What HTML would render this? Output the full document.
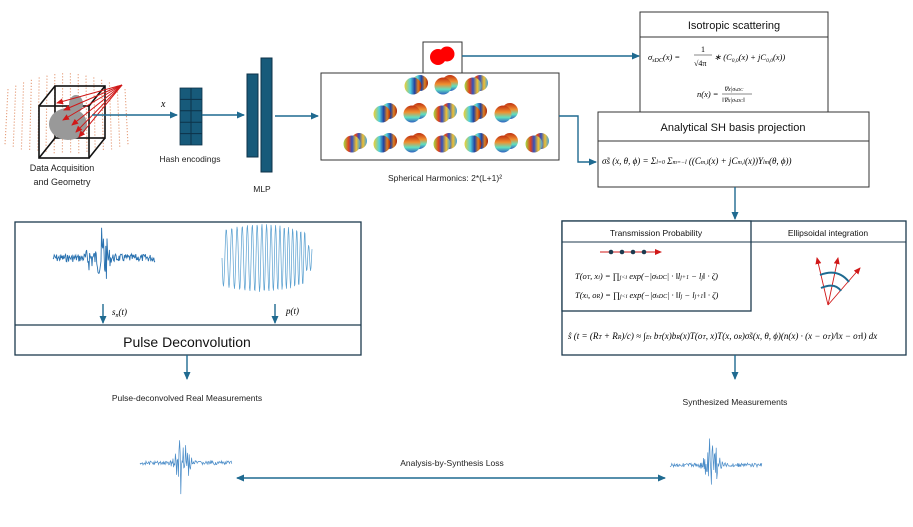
<!DOCTYPE html>
<html><head><meta charset="utf-8"><style>
body{margin:0;background:#fff}
svg{display:block;font-family:"Liberation Sans",sans-serif}
.m{font-family:"Liberation Serif",serif;font-style:italic}
</style></head><body>
<svg id="s" width="913" height="527" viewBox="0 0 913 527" xmlns="http://www.w3.org/2000/svg">
<defs>
<marker id="a" markerWidth="8" markerHeight="8" refX="7" refY="4" orient="auto" markerUnits="userSpaceOnUse"><path d="M0,0.5 L8,4 L0,7.5z" fill="#1f6a90"/></marker>
<marker id="ab" markerWidth="8" markerHeight="8" refX="1" refY="4" orient="auto" markerUnits="userSpaceOnUse"><path d="M8,0.5 L0,4 L8,7.5z" fill="#1f6a90"/></marker>
<marker id="r" markerWidth="7" markerHeight="7" refX="6" refY="3.5" orient="auto" markerUnits="userSpaceOnUse"><path d="M0,0.5 L7,3.5 L0,6.5z" fill="#d01818"/></marker>
<linearGradient id="g1" x1="0" x2="1"><stop offset="0" stop-color="#f0d030"/><stop offset="0.35" stop-color="#50d0e0"/><stop offset="0.6" stop-color="#2040a0"/><stop offset="0.8" stop-color="#e08020"/><stop offset="1" stop-color="#a02010"/></linearGradient>
<linearGradient id="g2" x1="0" x2="0" y1="0" y2="1"><stop offset="0" stop-color="#c03010"/><stop offset="0.4" stop-color="#f09030"/><stop offset="0.7" stop-color="#60e0c0"/><stop offset="1" stop-color="#3060c0"/></linearGradient>
<linearGradient id="g3" x1="0" x2="1"><stop offset="0" stop-color="#a0e040"/><stop offset="0.3" stop-color="#e04020"/><stop offset="0.5" stop-color="#3050c0"/><stop offset="0.75" stop-color="#f0c030"/><stop offset="1" stop-color="#40a0e0"/></linearGradient>
</defs>
<g id="dots"></g>
<g stroke="#111" stroke-width="1.6" fill="none">
<rect x="39" y="106" width="50" height="52"/>
<rect x="55" y="86" width="50" height="52"/>
<line x1="39" y1="106" x2="55" y2="86"/><line x1="89" y1="106" x2="105" y2="86"/><line x1="39" y1="158" x2="55" y2="138"/><line x1="89" y1="158" x2="105" y2="138"/>
</g>
<ellipse cx="68" cy="124" rx="19" ry="16" fill="#999"/><ellipse cx="76" cy="104" rx="7" ry="9" fill="#999"/>
<g stroke="#d01818" stroke-width="1" marker-end="url(#r)">
<line x1="122" y1="85" x2="57" y2="103"/><line x1="122" y1="85" x2="64" y2="110"/><line x1="122" y1="85" x2="63" y2="120"/><line x1="122" y1="85" x2="72" y2="125"/><line x1="122" y1="85" x2="76" y2="132"/><line x1="122" y1="85" x2="79" y2="137"/>
</g>
<text x="62" y="171" font-size="9" text-anchor="middle" fill="#222">Data Acquisition</text>
<text x="62" y="185" font-size="9" text-anchor="middle" fill="#222">and Geometry</text>
<line x1="92" y1="115" x2="177" y2="115" stroke="#1f6a90" stroke-width="1.4" marker-end="url(#a)"/>
<text x="161" y="107" font-size="10" class="m">x</text>
<rect x="180" y="88" width="22" height="57" fill="#175a7a" stroke="#0d3248" stroke-width="0.8"/>
<g stroke="#0d3248" stroke-width="1"><line x1="191" y1="88" x2="191" y2="145"/><line x1="180" y1="99.4" x2="202" y2="99.4"/><line x1="180" y1="110.8" x2="202" y2="110.8"/><line x1="180" y1="122.2" x2="202" y2="122.2"/><line x1="180" y1="133.6" x2="202" y2="133.6"/></g>
<text x="190" y="162" font-size="8.5" text-anchor="middle" fill="#222">Hash encodings</text>
<line x1="202" y1="115" x2="244" y2="115" stroke="#1f6a90" stroke-width="1.4" marker-end="url(#a)"/>
<rect x="247" y="74" width="11" height="83" fill="#175a7a" stroke="#0d3248"/>
<rect x="261" y="58" width="11" height="114" fill="#175a7a" stroke="#0d3248"/>
<text x="262" y="192" font-size="8.5" text-anchor="middle" fill="#222">MLP</text>
<line x1="275" y1="116" x2="318" y2="116" stroke="#1f6a90" stroke-width="1.4" marker-end="url(#a)"/>
<rect x="321" y="73" width="238" height="87" fill="#fff" stroke="#333"/>
<g id="sh"></g>
<text x="445" y="181" font-size="8.5" text-anchor="middle" fill="#222">Spherical Harmonics: 2*(L+1)²</text>
<rect x="423" y="42" width="39" height="31" fill="#fff" stroke="#333"/>
<circle cx="438" cy="57" r="8" fill="#ff0000"/><circle cx="447" cy="54" r="7.5" fill="#ff0000"/>
<line x1="462" y1="56" x2="639" y2="56" stroke="#1f6a90" stroke-width="1.4" marker-end="url(#a)"/>
<path d="M559,116 H578 V162 H596" fill="none" stroke="#1f6a90" stroke-width="1.4" marker-end="url(#a)"/>
<rect x="640" y="12" width="188" height="100" fill="#fff" stroke="#333"/>
<line x1="640" y1="37" x2="828" y2="37" stroke="#333"/>
<text x="734" y="29" font-size="11" text-anchor="middle" fill="#111">Isotropic scattering</text>
<text x="648" y="60" font-size="8.5" class="m">σ<tspan font-size="6" dy="2">sDC</tspan><tspan dy="-2">(x) = </tspan></text>
<text x="701" y="52" font-size="8" font-family="Liberation Serif">1</text>
<line x1="694" y1="55" x2="712" y2="55" stroke="#111" stroke-width="0.6"/>
<text x="694" y="66" font-size="8" font-family="Liberation Serif">√4π</text>
<text x="714" y="60" font-size="8.5" class="m">∗ (C<tspan font-size="5.5" dy="2">0,0</tspan><tspan dy="-2">(x) + jC</tspan><tspan font-size="5.5" dy="2">0,0</tspan><tspan dy="-2">(x))</tspan></text>
<text x="697" y="97" font-size="8.5" class="m">n(x) =</text>
<text x="724" y="91" font-size="6" class="m">∇x|σ<tspan font-size="4.5">sDC</tspan></text>
<line x1="722" y1="94" x2="752" y2="94" stroke="#111" stroke-width="0.5"/>
<text x="722" y="102" font-size="6" class="m">‖∇x|σ<tspan font-size="4.5">sDC</tspan>‖</text>
<rect x="598" y="112" width="271" height="75" fill="#fff" stroke="#333"/>
<line x1="598" y1="141" x2="869" y2="141" stroke="#333"/>
<text x="733" y="131" font-size="11" text-anchor="middle" fill="#111">Analytical SH basis projection</text>
<text x="602" y="164" font-size="9" class="m">σ̃s (x, θ, ϕ) = Σ<tspan font-size="6">l=0</tspan> Σ<tspan font-size="6">m=−l</tspan> ((C<tspan font-size="6">m,l</tspan>(x) + jC<tspan font-size="6">m,l</tspan>(x))Y<tspan font-size="6">l</tspan><tspan font-size="6">m</tspan>(θ, ϕ))</text>
<line x1="735" y1="187" x2="735" y2="219" stroke="#1f6a90" stroke-width="1.4" marker-end="url(#a)"/>
<rect x="562" y="221" width="344" height="134" fill="#fff" stroke="#1c3a4e" stroke-width="1.3"/>
<rect x="562" y="221" width="189" height="90" fill="#fff" stroke="#1c3a4e" stroke-width="1.3"/>
<line x1="562" y1="242" x2="906" y2="242" stroke="#1c3a4e" stroke-width="1.1"/>
<text x="656" y="236" font-size="8.5" text-anchor="middle" fill="#111">Transmission Probability</text>
<text x="828" y="236" font-size="8.5" text-anchor="middle" fill="#111">Ellipsoidal integration</text>
<line x1="600" y1="252" x2="661" y2="252" stroke="#d01818" marker-end="url(#r)"/>
<g fill="#1c3a4e"><circle cx="611" cy="252" r="2.3"/><circle cx="622" cy="252" r="2.3"/><circle cx="633" cy="252" r="2.3"/><circle cx="644" cy="252" r="2.3"/></g>
<text x="575" y="279" font-size="8.5" class="m">T(o<tspan font-size="6">T</tspan>, x<tspan font-size="6">i</tspan>) = ∏<tspan font-size="6">j&lt;i</tspan> exp(−|σ<tspan font-size="6">sDC</tspan>| · ‖l<tspan font-size="6">j+1</tspan> − l<tspan font-size="6">j</tspan>‖ · ζ)</text>
<text x="575" y="298" font-size="8.5" class="m">T(x<tspan font-size="6">i</tspan>, o<tspan font-size="6">R</tspan>) = ∏<tspan font-size="6">j&lt;i</tspan> exp(−|σ<tspan font-size="6">sDC</tspan>| · ‖l<tspan font-size="6">j</tspan> − l<tspan font-size="6">j+1</tspan>‖ · ζ)</text>
<g stroke="#d01818" stroke-width="0.9" marker-end="url(#r)">
<line x1="828" y1="305" x2="817" y2="258"/><line x1="828" y1="305" x2="838" y2="258"/><line x1="828" y1="305" x2="860" y2="268"/>
</g>
<path d="M821,288 Q835,282 841,291" fill="none" stroke="#1f6a90" stroke-width="2"/>
<path d="M820,275 Q838,268 849,282" fill="none" stroke="#1f6a90" stroke-width="2"/>
<text x="568" y="339" font-size="9" class="m">ŝ (t = (R<tspan font-size="6">T</tspan> + R<tspan font-size="6">R</tspan>)/c) ≈ ∫<tspan font-size="6">Eτ</tspan> b<tspan font-size="6">T</tspan>(x)b<tspan font-size="6">R</tspan>(x)T(o<tspan font-size="6">T</tspan>, x)T(x, o<tspan font-size="6">R</tspan>)σ̃s(x, θ, ϕ)(n(x) · (x − o<tspan font-size="6">T</tspan>)/‖x − o<tspan font-size="6">T</tspan>‖) dx</text>
<line x1="735" y1="355" x2="735" y2="379" stroke="#1f6a90" stroke-width="1.4" marker-end="url(#a)"/>
<text x="735" y="405" font-size="8.5" text-anchor="middle" fill="#222">Synthesized Measurements</text>
<rect x="15" y="222" width="346" height="133" fill="#fff" stroke="#1c3a4e" stroke-width="1.3"/>
<line x1="15" y1="325" x2="361" y2="325" stroke="#1c3a4e" stroke-width="1.3"/>
<text x="187" y="347" font-size="14" text-anchor="middle" fill="#111">Pulse Deconvolution</text>
<g id="w"></g>
<line x1="103" y1="304" x2="103" y2="323" stroke="#1f6a90" stroke-width="1.4" marker-end="url(#a)"/>
<line x1="275" y1="304" x2="275" y2="323" stroke="#1f6a90" stroke-width="1.4" marker-end="url(#a)"/>
<text x="112" y="315" font-size="9" class="m">s<tspan font-size="6" dy="2">n</tspan><tspan dy="-2">(t)</tspan></text>
<text x="286" y="314" font-size="9" class="m">p(t)</text>
<line x1="187" y1="355" x2="187" y2="379" stroke="#1f6a90" stroke-width="1.4" marker-end="url(#a)"/>
<text x="187" y="401" font-size="8.5" text-anchor="middle" fill="#222">Pulse-deconvolved Real Measurements</text>
<line x1="237" y1="478" x2="665" y2="478" stroke="#1f6a90" stroke-width="1.4" marker-end="url(#a)" marker-start="url(#ab)"/>
<text x="452" y="466" font-size="8.5" text-anchor="middle" fill="#222">Analysis-by-Synthesis Loss</text>
</svg>
<script>
var NS="http://www.w3.org/2000/svg",s=function(t,a,p){var e=document.createElementNS(NS,t);for(var k in a)e.setAttribute(k,a[k]);(p||document.getElementById('s')).appendChild(e);return e};
var seed=7;function rnd(){seed=(seed*9301+49297)%233280;return seed/233280}
var d=document.getElementById('dots');
for(var i=0;i<16;i++){var x=8+i*7.8;var c=(i-7.5)/7.5;var h=70*(1-0.35*c*c);var y0=112-h/2-4+Math.abs(c)*4;
s('line',{x1:x,y1:y0,x2:x+c*3,y2:y0+h+10,stroke:'#e08a60','stroke-width':1.1,'stroke-dasharray':'1 2'},d);}
var sh=document.getElementById('sh');
var rows=[[[416,85],[446,85],[476,85]],[[385,113],[415,113],[445,113],[475,113],[506,113]],[[355,143],[385,143],[415,143],[445,143],[476,143],[506,143],[537,143]]];
var gs=['url(#g1)','url(#g2)','url(#g3)'];var k=0;
rows.forEach(function(r){r.forEach(function(p){var g=gs[k++%3];s('circle',{cx:p[0]+4,cy:p[1]-2,r:8,fill:g},sh);s('circle',{cx:p[0]-3,cy:p[1]+1,r:8.5,fill:g},sh);});});
var w=document.getElementById('w');
var p='';for(var x=53;x<=155;x+=0.6){var e=Math.exp(-Math.pow((x-103)/5,2));var amp=4+10*Math.exp(-Math.pow((x-90)/4,2))+30*e;p+=(p?'L':'M')+x.toFixed(1)+','+(258+amp*(rnd()*2-1)).toFixed(1);}s('path',{d:p,fill:'none',stroke:'#2a72b0','stroke-width':0.9},w);
p='';for(var x=222;x<=312;x+=0.5){var t=(x-222);var f=1.1+t*0.003;var env=28+6*Math.sin(t/25);var y=258+env*Math.sin(t*f)*(x>305?0.5:1);p+=(p?'L':'M')+x+','+y.toFixed(1);}s('path',{d:p,fill:'none',stroke:'#5aa0d0','stroke-width':0.7},w);
function spikes(x0,x1,yc){var p='';for(var x=x0;x<=x1;x+=0.6){var e=Math.exp(-Math.pow((x-(x0+42))/6,2));var amp=2+50*e*(0.4+0.6*rnd());p+=(p?'L':'M')+x.toFixed(1)+','+(yc+amp*(rnd()*2-1)).toFixed(1);}s('path',{d:p,fill:'none',stroke:'#4a8cc8','stroke-width':0.7},w);}
spikes(140,232,463);spikes(670,762,465);
</script>
</body></html>
